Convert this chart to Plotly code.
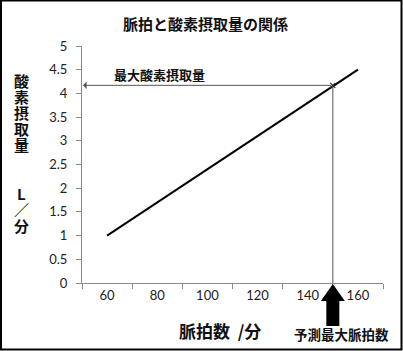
import plotly.graph_objects as go

# ---- data ----
pulse = [60, 80, 100, 120, 140, 160]
vo2 = [1.0, 1.7, 2.4, 3.1, 3.8, 4.5]
max_pulse = 150
max_vo2 = 4.17
x_ticks = [60, 80, 100, 120, 140, 160]
x_tick_marks = [50, 70, 90, 110, 130, 150, 170]
y_ticks = [0, 0.5, 1, 1.5, 2, 2.5, 3, 3.5, 4, 4.5, 5]
y_tick_text = ["0", "0.5", "1", "1.5", "2", "2.5", "3", "3.5", "4", "4.5", "5"]
title_text = "脈拍と酸素摂取量の関係"
y_title_chars = ["酸", "素", "摂", "取", "量", "", "", "L", "／", "分"]
x_title_text = "脈拍数  /分"
max_vo2_label = "最大酸素摂取量"
max_pulse_label = "予測最大脈拍数"

W, H = 403, 351
L, R, T, B = 82, 20, 46, 68
pw, ph = W - L - R, H - T - B
xr = [50, 170]
yr = [0, 5]

def px2paper_x(px):
    return (px - L) / pw

def py2paper_y(py):
    return (H - B - py) / ph

def data2paper_x(x):
    return (x - xr[0]) / (xr[1] - xr[0])

fig = go.Figure()
fig.add_trace(go.Scatter(x=pulse, y=vo2, mode="lines",
                         line=dict(color="black", width=2), showlegend=False,
                         hoverinfo="skip"))
# vertical guide line
fig.add_trace(go.Scatter(x=[max_pulse, max_pulse], y=[0, max_vo2], mode="lines",
                         line=dict(color="#555555", width=1), showlegend=False,
                         hoverinfo="skip"))
fig.add_trace(go.Scatter(x=[max_pulse], y=[max_vo2], mode="markers",
                         marker=dict(symbol="x-thin", size=5, color="#333",
                                     line=dict(width=1.2, color="#333")),
                         showlegend=False, hoverinfo="skip"))

jp = "Noto Sans CJK JP"
C = dict(xanchor="center", yanchor="middle", showarrow=False)
annotations = []
# horizontal arrow to y axis
annotations.append(dict(x=xr[0] + 0.4, y=max_vo2, ax=max_pulse, ay=max_vo2,
                        xref="x", yref="y", axref="x", ayref="y", text="",
                        showarrow=True, arrowhead=1, arrowsize=1.2, arrowwidth=1,
                        arrowcolor="#555555"))
annotations.append(dict(x=81, y=4.39, xref="x", yref="y", text="<b>" + max_vo2_label + "</b>",
                        font=dict(family=jp, size=13, color="#111"), **C))
# title
annotations.append(dict(x=px2paper_x(205), y=py2paper_y(23), xref="paper", yref="paper",
                        text="<b>" + title_text + "</b>",
                        font=dict(family=jp, size=15, color="#111"), **C))
# y title stacked characters
ypos = 80
for ch in y_title_chars:
    if ch:
        annotations.append(dict(x=px2paper_x(21), y=py2paper_y(ypos), xref="paper", yref="paper",
                                text="<b>" + ch + "</b>",
                                font=dict(family=jp, size=15, color="#111"), **C))
    ypos += 16.2
# x title
annotations.append(dict(x=px2paper_x(220), y=py2paper_y(330), xref="paper", yref="paper",
                        text="<b>" + x_title_text + "</b>",
                        font=dict(family=jp, size=17, color="#111"), **C))
annotations.append(dict(x=px2paper_x(341), y=py2paper_y(334), xref="paper", yref="paper",
                        text="<b>" + max_pulse_label + "</b>",
                        font=dict(family=jp, size=13.5, color="#111"), **C))

# big block arrow under 150
ax_c = data2paper_x(max_pulse)
hw = 12 / pw
sw = 6.5 / pw
tip = py2paper_y(284)
base = py2paper_y(301)
bot = py2paper_y(326)
path = (f"M {ax_c},{tip} L {ax_c+hw},{base} L {ax_c+sw},{base} L {ax_c+sw},{bot} "
        f"L {ax_c-sw},{bot} L {ax_c-sw},{base} L {ax_c-hw},{base} Z")
shapes = [
    dict(type="path", path=path, xref="paper", yref="paper", fillcolor="black",
         line=dict(width=0)),
    dict(type="rect", xref="paper", yref="paper",
         x0=px2paper_x(1), x1=px2paper_x(401.5), y0=py2paper_y(349.5), y1=py2paper_y(0.5),
         line=dict(color="black", width=2), fillcolor="rgba(0,0,0,0)"),
]

fig.update_layout(
    width=W, height=H, margin=dict(l=L, r=R, t=T, b=B),
    paper_bgcolor="white", plot_bgcolor="white",
    annotations=annotations, shapes=shapes,
    xaxis=dict(range=xr, tickvals=x_ticks, ticktext=[str(v) for v in x_ticks],
               ticks="", showgrid=False, zeroline=False, showline=True,
               linecolor="#8a8a8a", linewidth=1,
               tickfont=dict(family="Lato", size=13, color="#222"),
               minor=dict(tickvals=x_tick_marks, ticks="outside", ticklen=5,
                          tickcolor="#8a8a8a", showgrid=False)),
    yaxis=dict(range=yr, tickvals=y_ticks, ticktext=y_tick_text, ticks="outside",
               ticklen=5, tickcolor="#8a8a8a", showgrid=False, zeroline=False,
               showline=True, linecolor="#8a8a8a", linewidth=1,
               tickfont=dict(family="Lato", size=13, color="#222"), ticklabelstandoff=6),
)

fig.write_html("out.html")
